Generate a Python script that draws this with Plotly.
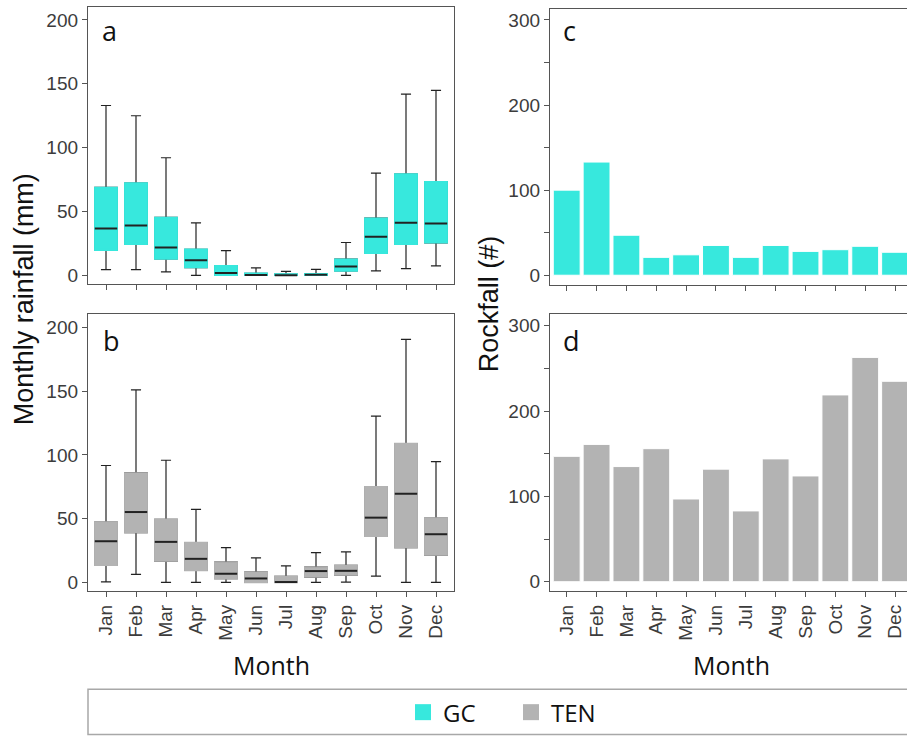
import plotly.graph_objects as go

# ---------------- data ----------------
months = ["Jan", "Feb", "Mar", "Apr", "May", "Jun",
          "Jul", "Aug", "Sep", "Oct", "Nov", "Dec"]

# panel a: GC monthly rainfall (mm) box statistics
gc_low = [4.5, 4.5, 2.6, 0, 0, 0, 0, 0, 0, 3.4, 5.2, 7.3]
gc_q1 = [19.6, 24.3, 12.8, 6.0, 0, 0, 0, 0, 3.4, 17.3, 24.3, 25.4]
gc_med = [36.6, 39.0, 21.7, 11.8, 1.8, 0.3, 0, 0.5, 6.8, 30.1, 41.1, 40.6]
gc_q3 = [68.8, 72.3, 45.3, 20.4, 7.6, 1.6, 1.0, 1.3, 12.6, 44.8, 79.3, 73.3]
gc_high = [133, 125, 92.1, 41.1, 19.4, 5.8, 3.1, 4.7, 25.7, 80, 142, 144.8]

# panel b: TEN monthly rainfall (mm) box statistics
ten_low = [0.5, 6.3, 0, 0, 0, 0, 0, 0, 0.3, 5.0, 0, 0]
ten_q1 = [13.5, 39.1, 16.7, 9.4, 2.9, 0, 0, 4.2, 5.7, 36.2, 27.3, 21.4]
ten_med = [32.3, 55.2, 31.8, 18.5, 6.8, 3.1, 0.3, 8.9, 9.1, 50.8, 69.5, 37.8]
ten_q3 = [47.4, 85.9, 49.5, 31.3, 15.9, 8.1, 4.7, 12.0, 13.3, 75.0, 108.9, 50.5]
ten_high = [91.7, 151, 95.8, 57.3, 27.3, 19.3, 13.0, 23.4, 24.0, 130.5, 190.6, 94.8]

# panels c, d: rockfall counts
gc_rockfall = [100, 133, 47, 21, 24, 35, 21, 35, 28, 30, 34, 27]
ten_rockfall = [147, 161, 135, 156, 97, 132, 83, 144, 124, 219, 263, 235]

groups = ["GC", "TEN"]
yticks_rain = [0, 50, 100, 150, 200]
yticks_rock = [0, 100, 200, 300]

# ---------------- style ----------------
W, H = 907, 738
C_GC = "#37E8DD"
C_TEN = "#B3B3B3"
DARK = "#222222"
AXC = "#555555"
TICKFONT = dict(family="Liberation Sans, Arial, sans-serif", size=19, color="#3c3c3c")
TITLEFONT = dict(family="Liberation Sans, Arial, sans-serif", size=27, color="#111111")
LABFONT = dict(family="Open Sans, sans-serif", size=27, color="#111111")


def dx(a, b):
    return [a / W, min(b / W, 1.0)]


def dy(top, bottom):
    return [1 - bottom / H, 1 - top / H]


fig = go.Figure()


def add_boxes(xa, ya, low, q1, med, q3, high, color):
    fig.add_trace(go.Box(
        x=months, q1=q1, median=med, q3=q3, lowerfence=low, upperfence=high,
        fillcolor=color, line=dict(color=DARK, width=1.2), whiskerwidth=0.45,
        width=0.75, boxpoints=False, showlegend=False, hoverinfo="skip",
        xaxis=xa, yaxis=ya))
    # cover the dark box outline with the fill colour
    fig.add_trace(go.Box(
        x=months, q1=q1, median=q1, q3=q3, lowerfence=q1, upperfence=q3,
        fillcolor=color, line=dict(color=color, width=1.4), whiskerwidth=0,
        width=0.75, boxpoints=False, showlegend=False, hoverinfo="skip",
        xaxis=xa, yaxis=ya))
    # median lines
    fig.add_trace(go.Scatter(
        x=months, y=med, mode="markers",
        marker=dict(symbol="line-ew", size=16, line=dict(color=DARK, width=2)),
        showlegend=False, hoverinfo="skip", xaxis=xa, yaxis=ya))


add_boxes("x", "y", gc_low, gc_q1, gc_med, gc_q3, gc_high, C_GC)
add_boxes("x2", "y2", ten_low, ten_q1, ten_med, ten_q3, ten_high, C_TEN)

fig.add_trace(go.Bar(x=months, y=gc_rockfall, width=0.9,
                     marker=dict(color=C_GC, line=dict(color="white", width=1)),
                     showlegend=False, xaxis="x3", yaxis="y3"))
fig.add_trace(go.Bar(x=months, y=ten_rockfall, width=0.9,
                     marker=dict(color=C_TEN, line=dict(color="white", width=1)),
                     showlegend=False, xaxis="x4", yaxis="y4"))

# legend entries
for name, col in zip(groups, [C_GC, C_TEN]):
    fig.add_trace(go.Scatter(x=[None], y=[None], mode="markers", name=name,
                             marker=dict(symbol="square", size=17, color=col,
                                         line=dict(width=0)),
                             xaxis="x", yaxis="y"))


def xaxis(domain, rng, anchor, show_labels):
    return dict(domain=domain, anchor=anchor, type="category",
                categoryorder="array", categoryarray=months, range=rng,
                showline=True, linecolor=AXC, linewidth=1.3, mirror=True,
                showgrid=False, zeroline=False, ticks="outside", ticklen=5,
                tickwidth=1, tickcolor=AXC, tickangle=-90,
                showticklabels=show_labels, tickfont=TICKFONT)


def yaxis(domain, rng, anchor, tickvals, mirror, minor=None):
    d = dict(domain=domain, anchor=anchor, range=rng, tickvals=tickvals,
             showline=True, linecolor=AXC, linewidth=1.3, mirror=mirror,
             showgrid=False, zeroline=False, ticks="outside", ticklen=5,
             tickwidth=1, tickcolor=AXC, tickfont=TICKFONT)
    if minor:
        d["minor"] = minor
    return d


minor_rock = dict(dtick=50, tick0=0, ticks="outside", ticklen=5, tickwidth=1,
                  tickcolor=AXC, showgrid=False)

fig.update_layout(
    width=W, height=H, autosize=False,
    margin=dict(l=0, r=0, t=0, b=0),
    paper_bgcolor="white", plot_bgcolor="white",
    xaxis=xaxis(dx(88, 454), [-0.6, 11.6], "y", False),
    yaxis=yaxis(dy(7.5, 285), [-7.0, 209.8], "x", yticks_rain, True),
    xaxis2=xaxis(dx(88, 454), [-0.6, 11.6], "y2", True),
    yaxis2=yaxis(dy(315, 592.7), [-6.8, 210.4], "x2", yticks_rain, True),
    xaxis3=xaxis(dx(550, 907), [-0.56, 11.40], "y3", False),
    yaxis3=yaxis(dy(9, 285.7), [-11.4, 312.9], "x3", yticks_rock, False, minor_rock),
    xaxis4=xaxis(dx(550, 907), [-0.56, 11.40], "y4", True),
    yaxis4=yaxis(dy(315, 592.7), [-11.0, 313.7], "x4", yticks_rock, False, minor_rock),
    barmode="overlay", boxmode="overlay",
    showlegend=True,
    legend=dict(orientation="h", x=403 / W, xanchor="left",
                y=1 - 714.5 / H, yanchor="middle",
                font=dict(family="Open Sans, sans-serif", size=24, color="#111111"),
                itemsizing="trace", entrywidth=63, bgcolor="rgba(0,0,0,0)",
                borderwidth=0),
    shapes=[dict(type="rect", xref="paper", yref="paper",
                 x0=88 / W, x1=1.05, y0=1 - 736.5 / H, y1=1 - 691 / H,
                 line=dict(color="#A8A8A8", width=1.5), fillcolor="rgba(0,0,0,0)")],
)

ann = []
for txt, x, y in [("a", 100, 31), ("b", 101, 341), ("c", 561, 31), ("d", 561, 341)]:
    ann.append(dict(text=txt, xref="paper", yref="paper", x=x / W, y=1 - y / H,
                    xanchor="left", yanchor="middle", showarrow=False, font=LABFONT))
ann.append(dict(text="Monthly rainfall (mm)", xref="paper", yref="paper",
                x=24 / W, y=1 - 300 / H, textangle=-90, showarrow=False,
                xanchor="center", yanchor="middle", font=TITLEFONT))
ann.append(dict(text="Rockfall (#)", xref="paper", yref="paper",
                x=489 / W, y=1 - 305 / H, textangle=-90, showarrow=False,
                xanchor="center", yanchor="middle", font=TITLEFONT))
for x in [271, 731.5]:
    ann.append(dict(text="Month", xref="paper", yref="paper", x=x / W, y=1 - 667 / H,
                    xanchor="center", yanchor="middle", showarrow=False,
                    font=dict(family="Open Sans, sans-serif", size=25, color="#111111")))
fig.update_layout(annotations=ann)

fig.write_html("out.html",
               config={"displayModeBar": False},
               post_script="document.body.style.margin='0';"
                           "document.body.style.overflow='hidden';")
